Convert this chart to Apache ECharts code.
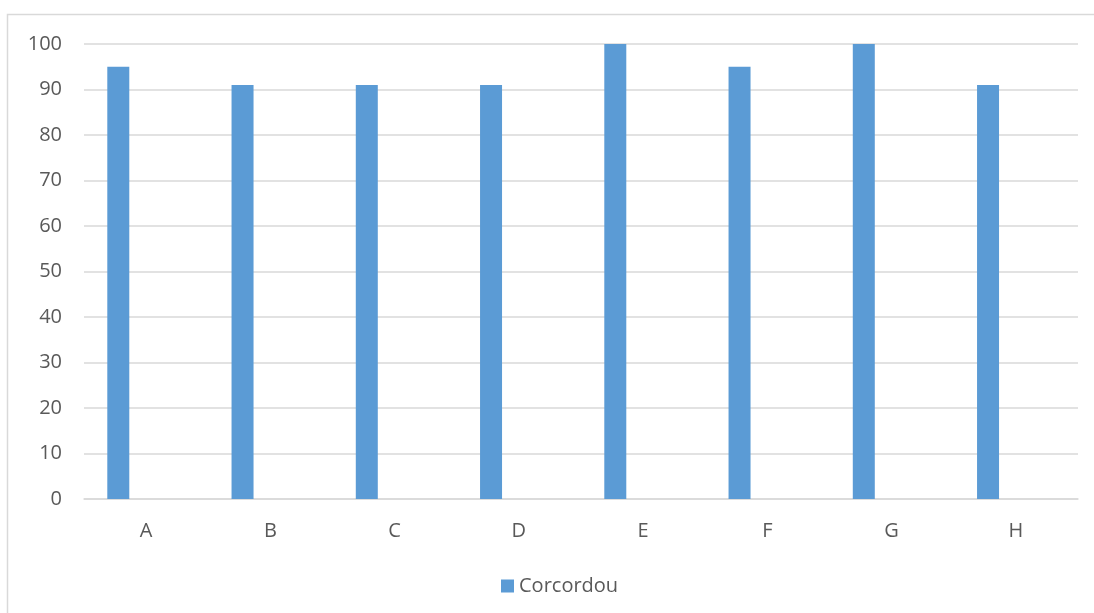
<!DOCTYPE html>
<html>
<head>
<meta charset="utf-8">
<script src="https://cdn.jsdelivr.net/npm/echarts@6/dist/echarts.min.js"></script>
<style>
  html, body { margin: 0; padding: 0; background: #ffffff; }
  #chart { width: 1094px; height: 613px; }
</style>
</head>
<body>
<div id="chart"></div>
<script>
// Categories and values
const categories = ['A', 'B', 'C', 'D', 'E', 'F', 'G', 'H'];
const corcordou = [95, 91, 91, 91, 100, 95, 100, 91];
const emptySeries = [null, null, null, null, null, null, null, null];
const yTicks = { min: 0, max: 100, interval: 10 };

const textColor = '#595959';
const lineColor = '#D9D9D9';
const fontFamily = '"Open Sans", "Liberation Sans", sans-serif';

const chart = echarts.init(document.getElementById('chart'));
chart.setOption({
  animation: false,
  backgroundColor: '#ffffff',
  graphic: [{
    type: 'rect',
    shape: { x: 7.5, y: 14.5, width: 1200, height: 700 },
    style: { fill: 'none', stroke: lineColor, lineWidth: 1.5 },
    silent: true
  }],
  grid: { left: 84, right: 16, top: 44, bottom: 114 },
  legend: {
    data: ['Corcordou'],
    top: 571,
    left: 496,
    itemWidth: 13,
    itemHeight: 13,
    itemGap: 8,
    icon: 'rect',
    textStyle: { color: textColor, fontSize: 20, fontFamily: fontFamily }
  },
  xAxis: {
    type: 'category',
    data: categories,
    axisLine: { show: true, lineStyle: { color: lineColor, width: 1.5 } },
    axisTick: { show: false },
    axisLabel: { color: textColor, fontSize: 20, fontFamily: fontFamily, margin: 22 }
  },
  yAxis: {
    type: 'value',
    min: yTicks.min,
    max: yTicks.max,
    interval: yTicks.interval,
    axisLine: { show: false },
    axisTick: { show: false },
    splitLine: { lineStyle: { color: lineColor, width: 1.5 } },
    axisLabel: { color: textColor, fontSize: 20, fontFamily: fontFamily, margin: 22 }
  },
  series: [
    {
      name: 'Corcordou',
      type: 'bar',
      data: corcordou,
      barWidth: 22,
      barGap: '153%',
      itemStyle: { color: '#5B9BD5' }
    },
    {
      name: 'blank',
      type: 'bar',
      data: emptySeries,
      barWidth: 22,
      itemStyle: { color: '#ED7D31' }
    }
  ]
});
</script>
</body>
</html>
